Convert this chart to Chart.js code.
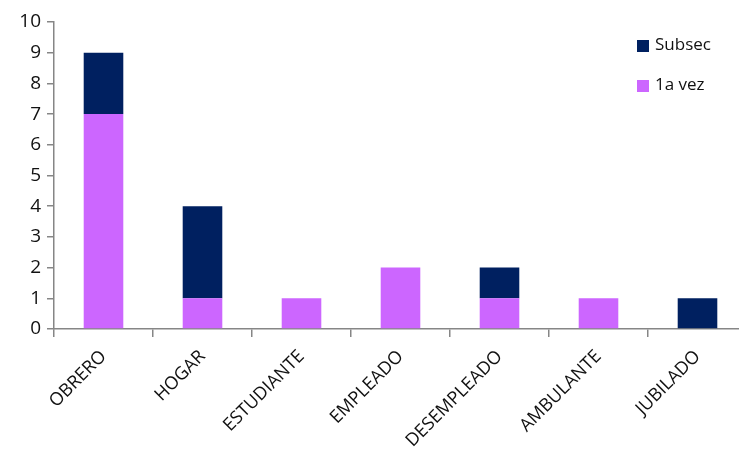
<!DOCTYPE html>
<html>
<head>
<meta charset="utf-8">
<script src="https://cdn.jsdelivr.net/npm/chart.js@4"></script>
<style>
  html, body { margin: 0; padding: 0; background: #fff; overflow: hidden; }
  #wrap { width: 750px; height: 454px; }
</style>
</head>
<body>
<div id="wrap"><canvas id="ocupChart" width="750" height="454"></canvas></div>
<script>
// data
const categories = ['OBRERO', 'HOGAR', 'ESTUDIANTE', 'EMPLEADO', 'DESEMPLEADO', 'AMBULANTE', 'JUBILADO'];
const primeraVez = [7, 1, 1, 2, 1, 1, 0];
const subsec = [2, 3, 0, 0, 1, 0, 1];
const yTicks = [0, 1, 2, 3, 4, 5, 6, 7, 8, 9, 10];

const axisColor = '#868686';
const fontFam = "'Open Sans', 'Liberation Sans', sans-serif";

// legend drawn inside the plot, top right, Subsec first
const insideLegend = {
    id: 'insideLegend',
    afterDraw(chart) {
        const ctx = chart.ctx;
        const items = chart.data.datasets.slice().reverse();
        ctx.save();
        ctx.font = '17px ' + fontFam;
        ctx.textBaseline = 'middle';
        items.forEach((ds, i) => {
            const y = 45 + i * 40;
            ctx.fillStyle = ds.backgroundColor;
            ctx.fillRect(637, y - 5, 12, 12);
            ctx.fillStyle = '#111';
            ctx.fillText(ds.label, 655, y);
        });
        ctx.restore();
    }
};

function initChart() {
    const ctx = document.getElementById('ocupChart').getContext('2d');

    new Chart(ctx, {
        type: 'bar',
        data: {
            labels: categories,
            datasets: [{
                label: '1a vez',
                data: primeraVez,
                backgroundColor: '#CC66FF',
                barPercentage: 0.8,
                categoryPercentage: 0.5
            }, {
                label: 'Subsec',
                data: subsec,
                backgroundColor: '#002060',
                barPercentage: 0.8,
                categoryPercentage: 0.5
            }]
        },
        options: {
            responsive: false,
            animation: false,
            layout: { padding: { top: 22, right: 3, left: 0, bottom: 0 } },
            plugins: {
                legend: { display: false },
                tooltip: { enabled: false }
            },
            scales: {
                x: {
                    stacked: true,
                    afterFit: function(scale) { scale.height = 125; },
                    border: { color: axisColor, width: 1.5 },
                    grid: {
                        drawOnChartArea: false,
                        offset: true,
                        tickLength: 8,
                        color: axisColor,
                        lineWidth: 1.5
                    },
                    ticks: {
                        minRotation: 45,
                        maxRotation: 45,
                        color: '#111',
                        font: { size: 18, family: fontFam },
                        padding: 9
                    }
                },
                y: {
                    stacked: true,
                    min: 0,
                    max: 10,
                    afterFit: function(scale) { scale.width = 54; },
                    afterBuildTicks: function(scale) {
                        scale.ticks = yTicks.map(v => ({ value: v }));
                    },
                    border: { color: axisColor, width: 1.5 },
                    grid: {
                        drawOnChartArea: false,
                        tickLength: 7,
                        color: axisColor,
                        lineWidth: 1.5
                    },
                    ticks: {
                        color: '#111',
                        font: { size: 19, family: fontFam },
                        padding: 6
                    }
                }
            }
        },
        plugins: [insideLegend]
    });
}

document.addEventListener('DOMContentLoaded', function() {
    initChart();
});
</script>
</body>
</html>
